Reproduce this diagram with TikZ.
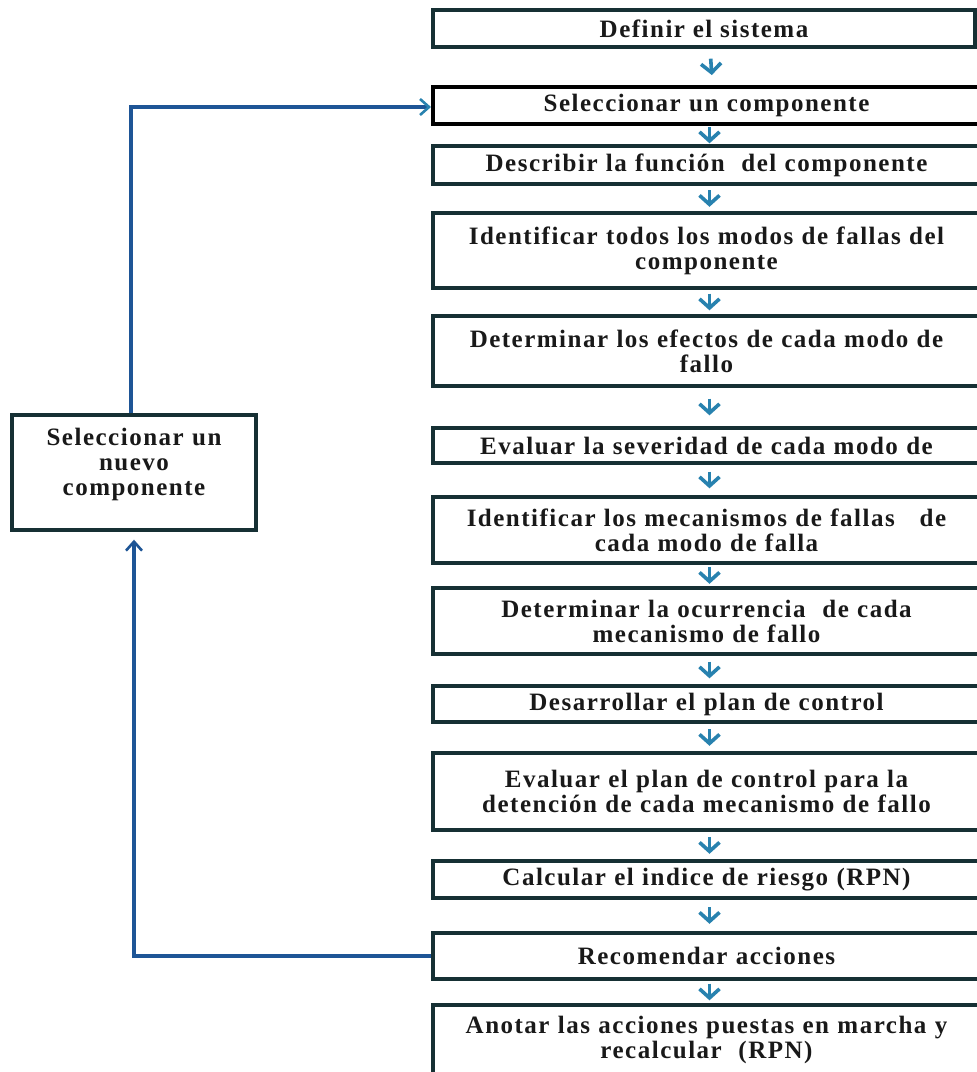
\documentclass[tikz,border=0pt]{standalone}
\usepackage{fontspec}
\setmainfont{Liberation Serif}[LetterSpace=6]
\usetikzlibrary{arrows.meta}
\definecolor{boxline}{RGB}{22,48,52}
\definecolor{arrblue}{RGB}{40,130,175}
\definecolor{fbblue}{RGB}{30,85,150}
\begin{document}
\begin{tikzpicture}[x=1pt,y=-1pt,
  font=\fontsize{25}{25}\selectfont\bfseries,
  box/.style={draw=boxline, line width=3.4pt, fill=white, align=center, inner sep=2pt, text=black!90},
  rbox/.style={box, minimum width=547pt, text width=530pt},
  dn/.style={draw=arrblue, line width=3.6pt, -{Straight Barb[length=9pt,width=20pt]}, shorten <=#1, shorten >=#1},
  fb/.style={draw=fbblue, line width=3.6pt}
]
\useasboundingbox (0,0) rectangle (977,1072);
\clip (0,0) rectangle (977,1072);
\fill[white] (0,0) rectangle (977,1072);

\node[box, minimum width=542pt, minimum height=37pt] (s1) at (704,28.5) {Definir el sistema};
\node[rbox, minimum height=37pt, line width=4pt, draw=black] (s2) at (706.5,105.5) {Seleccionar un componente};
\node[rbox, minimum height=38pt] (s3) at (706.5,165) {Describir la función \ del componente};
\node[rbox, minimum height=75pt] (s4) at (706.5,250.5) {Identificar todos los modos de fallas del\\componente};
\node[rbox, minimum height=70pt] (s5) at (706.5,351) {Determinar los efectos de cada modo de\\fallo};
\node[rbox, minimum height=35pt] (s6) at (706.5,445.5) {Evaluar la severidad de cada modo de};
\node[rbox, minimum height=66pt] (s7) at (706.5,530) {Identificar los mecanismos de fallas \ \ de\\cada modo de falla};
\node[rbox, minimum height=66pt] (s8) at (706.5,621) {Determinar la ocurrencia \ de cada\\mecanismo de fallo};
\node[rbox, minimum height=36pt] (s9) at (706.5,704) {Desarrollar el plan de control};
\node[rbox, minimum height=77pt] (s10) at (706.5,791.5) {Evaluar el plan de control para la\\detención de cada mecanismo de fallo};
\node[rbox, minimum height=37pt] (s11) at (706.5,879.5) {Calcular el indice de riesgo (RPN)};
\node[rbox, minimum height=46pt] (s12) at (706.5,956) {Recomendar acciones};
\node[rbox, minimum height=70pt] (s13) at (706.5,1040) {Anotar las acciones puestas en marcha y\\recalcular \ (RPN)};

\node[box, minimum width=244pt, minimum height=115pt, text width=236pt] (nuevo) at (134,472.5) {Seleccionar un\\nuevo\\componente\\[-4pt]\mbox{}};

\draw[dn=10pt] ([xshift=6pt]s1.south) -- ([xshift=6pt]s2.north);
\draw[dn=1pt] ([xshift=3pt]s2.south) -- ([xshift=3pt]s3.north);
\draw[dn=4.5pt] ([xshift=3pt]s3.south) -- ([xshift=3pt]s4.north);
\draw[dn=4pt] ([xshift=3pt]s4.south) -- ([xshift=3pt]s5.north);
\draw[dn=11pt] ([xshift=3pt]s5.south) -- ([xshift=3pt]s6.north);
\draw[dn=7pt] ([xshift=3pt]s6.south) -- ([xshift=3pt]s7.north);
\draw[dn=2.5pt] ([xshift=3pt]s7.south) -- ([xshift=3pt]s8.north);
\draw[dn=6pt] ([xshift=3pt]s8.south) -- ([xshift=3pt]s9.north);
\draw[dn=5.5pt] ([xshift=3pt]s9.south) -- ([xshift=3pt]s10.north);
\draw[dn=5.5pt] ([xshift=3pt]s10.south) -- ([xshift=3pt]s11.north);
\draw[dn=7.5pt] ([xshift=3pt]s11.south) -- ([xshift=3pt]s12.north);
\draw[dn=3pt] ([xshift=3pt]s12.south) -- ([xshift=3pt]s13.north);

\draw[fb, -{Straight Barb[length=9pt,width=16pt,color=arrblue,line width=2.6pt]}] ([xshift=-3pt]nuevo.north) |- ([yshift=-1.5pt]s2.west);
\draw[fb, -{Straight Barb[length=9pt,width=16pt,color=fbblue,line width=2.6pt]}, shorten >=8pt] (s12.west) -| (nuevo.south);
\end{tikzpicture}
\end{document}
